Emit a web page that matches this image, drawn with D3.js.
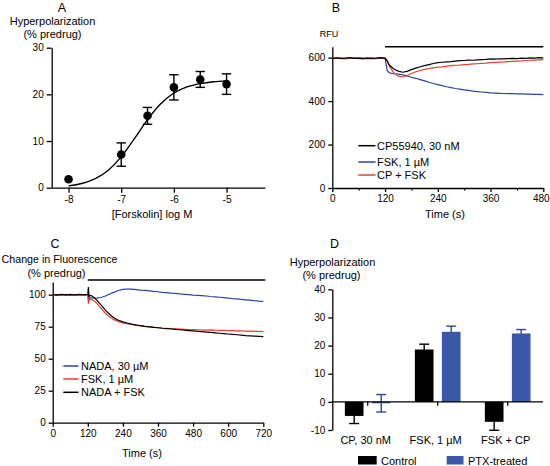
<!DOCTYPE html>
<html><head><meta charset="utf-8">
<script src="https://cdn.jsdelivr.net/npm/d3@7"></script>
<style>
body{margin:0;background:#fff;}
svg{display:block;font-family:"Liberation Sans",Arial,Helvetica,sans-serif;}
.axis path,.axis line{stroke:#000;stroke-width:1.3;}
.axis text{font-size:10px;fill:#000;font-family:"Liberation Sans",Arial,sans-serif;}
</style></head><body>
<script>
// ---------- Panel A data ----------
const aLogConc = [-8, -7, -6.5, -6, -5.5, -5];
const aMean = [1.8, 7.1, 15.4, 21.5, 23.2, 22.2];
const aErr = [0, 2.5, 1.8, 2.7, 1.7, 2.2];
const aCurveX = [-8, -7.75, -7.5, -7.25, -7, -6.75, -6.5, -6.25, -6, -5.75, -5.5, -5.25, -5];
const aCurveY = [0.4, 0.9, 1.9, 3.7, 6.6, 10.5, 14.6, 18.0, 20.3, 21.6, 22.3, 22.7, 22.9];
const aXTicks = [-8, -7, -6, -5];
const aYTicks = [0, 10, 20, 30];

// ---------- Panel B data ----------
const bTime = d3.range(0, 121, 10).concat([125]).concat(d3.range(130, 481, 10));
const bCP = [597,599,596,598,600,597,598,596,599,597,598,600,597, 585,
  565,548,538,533,537,545,552,558,563,568,573,577,579,581,582,584,586,587,589,588,590,591,592,594,593,595,594,596,597,596,598,597,599,598,600,599];
const bFSK = [596,598,597,595,597,598,596,597,595,597,596,598,597, 540,
  530,526,524,521,516,510,505,499,493,487,481,476,471,466,462,458,455,452,449,446,444,442,440,438,437,436,435,434,434,433,433,432,432,431,431,430];
const bCPFSK = [598,597,599,596,598,597,599,598,596,598,597,599,598, 583,
  560,530,515,511,518,527,535,541,546,550,553,556,558,561,563,565,566,568,569,571,572,574,575,577,578,579,581,582,583,584,585,587,588,589,590,591];
const bXTicks = [0, 120, 240, 360, 480];
const bXMinor = [60, 180, 300, 420];
const bYTicks = [0, 200, 400, 600];
const bLegend = ["CP55940, 30 nM", "FSK, 1 µM", "CP + FSK"];

// ---------- Panel C data ----------
const cTime = d3.range(0, 121, 15).concat([122, 124, 126, 135]).concat(d3.range(150, 721, 15));
const cNADA = [100.1,99.8,100,99.7,100.2,100,99.8,100.1,100, 97,96.5,97.5,97.5,
  97.3,97.8,99,100.5,102,103.3,104.2,104.4,104.3,104,103.6,103.4,103,102.6,102.3,101.8,101.6,101.2,101,100.6,100.3,100,99.7,99.5,99.3,99,98.6,98.3,98,97.7,97.4,97,96.7,96.3,96,95.7,95.3,95,94.8];
const cFSK = [99.8,100.1,99.6,100.2,99.9,100.3,99.7,100,99.9, 93,95,96.5,96,
  93.5,89.5,85.5,82.5,80.5,79,78,77.3,76.7,76.2,75.7,75.3,75,74.6,74.3,74,73.8,73.6,73.4,73.2,73,72.8,72.7,72.6,72.5,72.4,72.5,72.3,72.2,72.1,72,71.9,71.8,71.7,71.6,71.5,71.4,71.3,71.2];
const cNADAFSK = [100,99.7,100.2,99.8,100.1,99.6,100.3,99.9,100.2, 106,98,99.5,99,
  96,92,88,84.5,81.8,80,78.8,77.8,77,76.3,75.8,75.3,74.9,74.5,74.2,73.8,73.5,73.2,72.9,72.6,72.3,72,71.7,71.4,71.1,70.8,70.5,70.2,69.9,69.6,69.3,69,68.7,68.4,68.1,67.9,67.7,67.5,67.3];
const cXTicks = [0, 120, 240, 360, 480, 600, 720];
const cYTicks = [0, 25, 50, 75, 100];
const cLegend = ["NADA, 30 µM", "FSK, 1 µM", "NADA + FSK"];

// ---------- Panel D data ----------
const dGroups = ["CP, 30 nM", "FSK, 1 µM", "FSK + CP"];
const dSeries = ["Control", "PTX-treated"];
const dControl = [-5.0, 18.6, -7.1];
const dControlErr = [2.7, 1.9, 3.0];
const dPTX = [-0.5, 24.9, 24.3];
const dPTXErr = [3.1, 2.0, 1.4];
const dYTicks = [-10, 0, 10, 20, 30, 40];

const BLUE = "#2c43a0", RED = "#e8402c", BARBLUE = "#3b57a8";

const svg = d3.select("body").append("svg").attr("width", 550).attr("height", 466);

function txt(x, y, s, size, anchor) {
  return svg.append("text").attr("x", x).attr("y", y).attr("font-size", size)
    .attr("text-anchor", anchor || "middle").attr("fill", "#000").text(s);
}

// ================= Panel A =================
const xA = d3.scaleLinear().domain([-8.32, -4.27]).range([51.7, 265]);
const yA = d3.scaleLinear().domain([0, 30]).range([187.7, 47.7]);
svg.append("g").attr("class", "axis").attr("transform", `translate(0,${yA(0)})`)
  .call(d3.axisBottom(xA).tickValues(aXTicks).tickSize(5).tickSizeOuter(0).tickFormat(d => String(d)));
svg.append("g").attr("class", "axis").attr("transform", `translate(${xA.range()[0]},0)`)
  .call(d3.axisLeft(yA).tickValues(aYTicks).tickSize(5).tickSizeOuter(0).tickFormat(d => String(d)));
svg.append("path").datum(aCurveX.map((x, i) => [x, aCurveY[i]]))
  .attr("fill", "none").attr("stroke", "#000").attr("stroke-width", 1.4)
  .attr("d", d3.line().x(d => xA(d[0])).y(d => yA(d[1])).curve(d3.curveMonotoneX));
const aPts = aLogConc.map((x, i) => ({x, m: aMean[i], e: aErr[i]}));
const aErrG = svg.append("g").attr("stroke", "#000").attr("stroke-width", 1.4);
aPts.filter(d => d.e > 0).forEach(d => {
  const cx = xA(d.x);
  aErrG.append("line").attr("x1", cx).attr("x2", cx).attr("y1", yA(d.m - d.e)).attr("y2", yA(d.m + d.e));
  aErrG.append("line").attr("x1", cx - 4.7).attr("x2", cx + 4.7).attr("y1", yA(d.m - d.e)).attr("y2", yA(d.m - d.e));
  aErrG.append("line").attr("x1", cx - 4.7).attr("x2", cx + 4.7).attr("y1", yA(d.m + d.e)).attr("y2", yA(d.m + d.e));
});
svg.append("g").selectAll("circle").data(aPts).join("circle")
  .attr("cx", d => xA(d.x)).attr("cy", d => yA(d.m)).attr("r", 4.3).attr("fill", "#000");
txt(62, 11.5, "A", 12.5);
txt(52.5, 25, "Hyperpolarization", 11);
txt(52.5, 37.5, "(% predrug)", 11);
txt(152, 218, "[Forskolin] log M", 11);

// ================= Panel B =================
const xB = d3.scaleLinear().domain([0, 480]).range([332.3, 543.3]);
const yB = d3.scaleLinear().domain([0, 650]).range([188, 46.8]);
const bAxisX = svg.append("g").attr("class", "axis").attr("transform", `translate(0,${yB(0)})`)
  .call(d3.axisBottom(xB).tickValues(bXTicks).tickSize(4).tickSizeOuter(0).tickFormat(d => String(d)));
bAxisX.selectAll("text").attr("font-size", 9.6).attr("dx", d => d === 480 ? -2.5 : 0);
svg.append("g").attr("class", "axis").attr("transform", `translate(0,${yB(0)})`)
  .call(d3.axisBottom(xB).tickValues(bXMinor).tickSize(2.5).tickSizeOuter(0).tickFormat(() => ""))
  .select(".domain").remove();
svg.append("g").attr("class", "axis").attr("transform", `translate(${xB(0)},0)`)
  .call(d3.axisLeft(yB).tickValues(bYTicks).tickSize(4).tickSizeOuter(0).tickFormat(d => String(d)));
svg.append("line").attr("x1", xB(120)).attr("x2", xB(480)).attr("y1", yB(650)).attr("y2", yB(650))
  .attr("stroke", "#000").attr("stroke-width", 1.5);
const lineB = d3.line().x((d, i) => xB(bTime[i])).y(d => yB(d));
[[bFSK, BLUE], [bCPFSK, RED], [bCP, "#000"]].forEach(([arr, c]) => {
  svg.append("path").datum(arr).attr("fill", "none").attr("stroke", c).attr("stroke-width", 1.2).attr("d", lineB);
});
const bLegY = [145.7, 162, 175];
const bLegC = ["#000", BLUE, RED];
bLegend.forEach((s, i) => {
  svg.append("line").attr("x1", 358.3).attr("x2", 375.5).attr("y1", bLegY[i]).attr("y2", bLegY[i])
    .attr("stroke", bLegC[i]).attr("stroke-width", 1.5);
  txt(377, bLegY[i] + 4, s, 11, "start");
});
txt(336, 11.5, "B", 12.5);
txt(329, 37, "RFU", 9);
txt(445, 218, "Time (s)", 11);

// ================= Panel C =================
const xC = d3.scaleLinear().domain([0, 720]).range([52.7, 263.3]);
const yC = d3.scaleLinear().domain([0, 110]).range([422.7, 281.9]);
svg.append("g").attr("class", "axis").attr("transform", `translate(0,${yC(0)})`)
  .call(d3.axisBottom(xC).tickValues(cXTicks).tickSize(4).tickSizeOuter(0).tickFormat(d => String(d)));
svg.append("g").attr("class", "axis").attr("transform", `translate(${xC(0)},0)`)
  .call(d3.axisLeft(yC).tickValues(cYTicks).tickSize(4).tickSizeOuter(0).tickFormat(d => String(d)));
svg.append("line").attr("x1", xC(120)).attr("x2", xC(720) + 2).attr("y1", yC(111.5)).attr("y2", yC(111.5))
  .attr("stroke", "#000").attr("stroke-width", 1.5);
const lineC = d3.line().x((d, i) => xC(cTime[i])).y(d => yC(d));
[[cNADA, BLUE], [cFSK, RED], [cNADAFSK, "#000"]].forEach(([arr, c]) => {
  svg.append("path").datum(arr).attr("fill", "none").attr("stroke", c).attr("stroke-width", 1.2).attr("d", lineC);
});
const cLegY = [366, 379, 392.3];
const cLegC = [BLUE, RED, "#000"];
cLegend.forEach((s, i) => {
  svg.append("line").attr("x1", 63.3).attr("x2", 78.5).attr("y1", cLegY[i]).attr("y2", cLegY[i])
    .attr("stroke", cLegC[i]).attr("stroke-width", 1.5);
  txt(81, cLegY[i] + 4, s, 11, "start");
});
txt(55, 248, "C", 12.5);
txt(59.5, 262.5, "Change in Fluorescence", 10.7);
txt(56.5, 276.5, "(% predrug)", 11);
txt(142, 457, "Time (s)", 11);

// ================= Panel D =================
const xD = d3.scaleBand().domain(dGroups).range([332.7, 542.7]);
const xD1 = d3.scaleBand().domain(dSeries).range([0, xD.bandwidth()]).paddingInner(0.31).paddingOuter(0.45);
const yD = d3.scaleLinear().domain([-10, 40]).range([430, 289.3]);
svg.append("g").attr("class", "axis").attr("transform", `translate(${xD.range()[0] - 0.4},0)`)
  .call(d3.axisLeft(yD).tickValues(dYTicks).tickSize(4).tickSizeOuter(0).tickFormat(d => String(d)));
const dRows = [];
dGroups.forEach((g, i) => {
  dRows.push({g, s: "Control", v: dControl[i], e: dControlErr[i], c: "#000", ec: "#000"});
  dRows.push({g, s: "PTX-treated", v: dPTX[i], e: dPTXErr[i], c: BARBLUE, ec: "#2c43a0"});
});
const dErrG = svg.append("g").attr("stroke-width", 1.4);
dRows.forEach(d => {
  const cx = xD(d.g) + xD1(d.s) + xD1.bandwidth() / 2;
  const lo = d.v - d.e, hi = d.v + d.e;
  dErrG.append("line").attr("x1", cx).attr("x2", cx).attr("y1", yD(lo)).attr("y2", yD(hi)).attr("stroke", d.ec);
  [lo, hi].forEach(v => dErrG.append("line").attr("x1", cx - 5).attr("x2", cx + 5)
    .attr("y1", yD(v)).attr("y2", yD(v)).attr("stroke", d.ec));
});
svg.append("g").selectAll("rect").data(dRows).join("rect")
  .attr("x", d => xD(d.g) + xD1(d.s)).attr("width", xD1.bandwidth())
  .attr("y", d => yD(Math.max(0, d.v))).attr("height", d => Math.abs(yD(d.v) - yD(0)))
  .attr("fill", d => d.c);
const dAx = svg.append("g").attr("class", "axis").attr("transform", `translate(0,${yD(0)})`)
  .call(d3.axisBottom(xD).tickSize(4).tickSizeOuter(0).tickFormat(() => ""));
dAx.select(".domain").attr("d", `M${xD.range()[0] - 0.4},0H${543}`);
dGroups.forEach(g => txt(xD(g) + xD.bandwidth() / 2 - 2, 444, g, 11));
svg.append("rect").attr("x", 358).attr("y", 456).attr("width", 18.7).attr("height", 8.5).attr("fill", "#000");
txt(381, 464.5, "Control", 11, "start");
svg.append("rect").attr("x", 446.7).attr("y", 456).attr("width", 16.8).attr("height", 8.5).attr("fill", BARBLUE);
txt(468, 464.5, "PTX-treated", 11, "start");
txt(334.5, 248, "D", 12.5);
txt(332.5, 266, "Hyperpolarization", 11);
txt(331.5, 278.5, "(% predrug)", 11);
</script>
</body></html>
